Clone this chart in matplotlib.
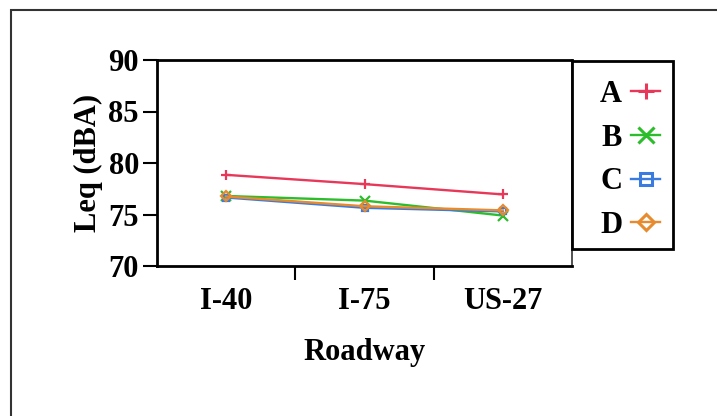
import matplotlib.pyplot as plt
from matplotlib.patches import Rectangle

roadways = ['I-40', 'I-75', 'US-27']
leq_a = [78.85, 77.95, 76.95]
leq_b = [76.8, 76.35, 74.9]
leq_c = [76.65, 75.65, 75.3]
leq_d = [76.75, 75.8, 75.4]

series = [
    ('A', leq_a, '#e8385a', '+', 'full'),
    ('B', leq_b, '#2cbd2c', 'x', 'full'),
    ('C', leq_c, '#3a7be0', 's', 'none'),
    ('D', leq_d, '#e88a2e', 'D', 'none'),
]

plt.rcParams['font.family'] = 'Liberation Serif'
plt.rcParams['font.weight'] = 'bold'

fig = plt.figure(figsize=(7.17, 4.16), dpi=100)
ax = fig.add_axes([157 / 717, 1 - 266 / 416, 415 / 717, 206 / 416])

xs = list(range(len(roadways)))
for name, vals, color, marker, fill in series:
    ms = 5 if marker in ('s', 'D') else 7
    ax.plot(xs, vals, color=color, lw=1.7, marker=marker, markersize=ms,
            fillstyle=fill, markeredgewidth=1.6, label=name)

ax.set_xlim(-0.5, 2.5)
ax.set_ylim(70, 90)
ax.set_yticks([70, 75, 80, 85, 90])
ax.set_xticks([0.5, 1.5])
ax.set_xticklabels([])
ax.set_xticks(xs, minor=True)
ax.set_xticklabels(roadways, minor=True)
ax.tick_params(axis='x', which='minor', length=0, pad=15, labelsize=22)
ax.tick_params(axis='x', which='major', length=10, width=1.5)
ax.tick_params(axis='y', length=10, width=1.5, labelsize=22, pad=3)

for side in ['left', 'bottom', 'top']:
    ax.spines[side].set_linewidth(2)
ax.spines['right'].set_linewidth(1.2)
ax.spines['right'].set_color('#333333')

ax.set_ylabel('Leq (dBA)', fontsize=22, fontweight='bold', labelpad=4)
ax.set_xlabel('Roadway', fontsize=22, fontweight='bold', labelpad=16)

# legend entries without frame; the box is drawn separately below
leg = ax.legend(loc='upper left', bbox_to_anchor=(600 / 717, 1 - 80 / 416),
                bbox_transform=fig.transFigure, markerfirst=False,
                frameon=False, fontsize=22, handlelength=0.95,
                handletextpad=0.3, labelspacing=0.48, borderpad=0,
                borderaxespad=0)
for h in leg.legend_handles:
    h.set_markersize(11 if h.get_marker() in ('+', 'x') else 8)
    h.set_markeredgewidth(2.2)

fig.patches.append(Rectangle((572 / 717, 1 - 249 / 416), 101 / 717, 188 / 416,
                             transform=fig.transFigure, fill=False,
                             edgecolor='black', lw=2, zorder=5))

# outer frame around the whole figure
fig.patches.append(Rectangle((11 / 717, -0.05), 1.0, 1 - 10 / 416 + 0.05,
                             transform=fig.transFigure, fill=False,
                             edgecolor='#333333', lw=1.5))

fig.savefig('out.png', dpi=100)
